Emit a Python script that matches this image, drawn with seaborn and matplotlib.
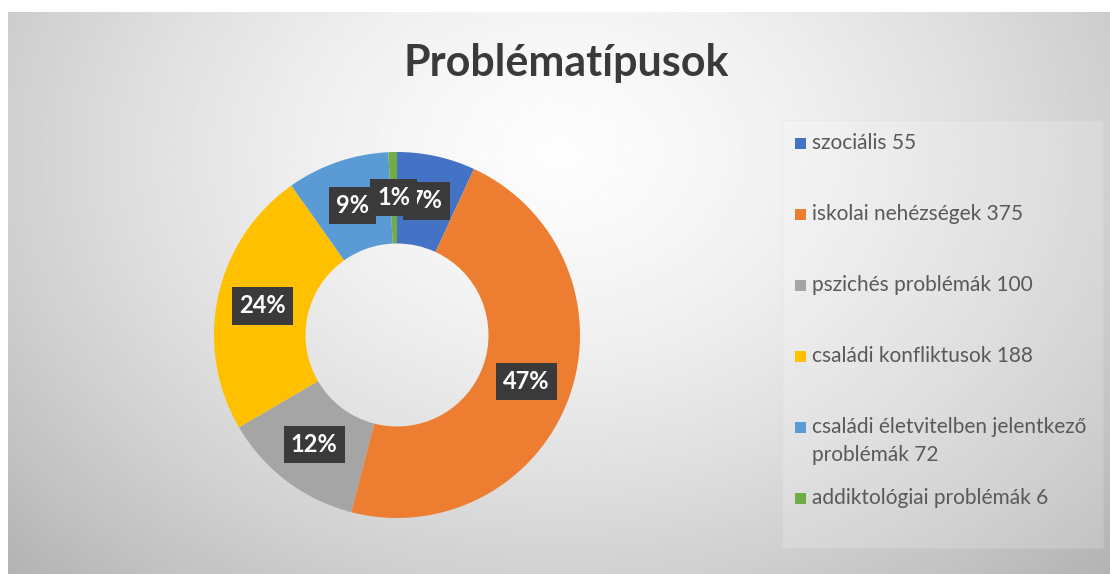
import numpy as np
import matplotlib
matplotlib.use("Agg")
import matplotlib.pyplot as plt
from matplotlib.patches import Rectangle
import seaborn as sns

# ---- data ----
categories = ["szociális", "iskolai nehézségek", "pszichés problémák",
              "családi konfliktusok", "családi életvitelben jelentkező\nproblémák",
              "addiktológiai problémák"]
values = [55, 375, 100, 188, 72, 6]
pct_labels = ["7%", "47%", "12%", "24%", "9%", "1%"]
colors = ["#4472C4", "#ED7D31", "#A5A5A5", "#FFC000", "#5B9BD5", "#70AD47"]
title = "Problématípusok"

sns.set_theme(style="white")
plt.rcParams['font.family'] = ['Lato', 'DejaVu Sans']

W, H = 1110, 574
fig = plt.figure(figsize=(W / 100, H / 100), dpi=100)
fig.patch.set_facecolor("white")

# background gradient
bg = fig.add_axes([8 / W, 0, 1 - 8 / W, (H - 12) / H])
gx = np.linspace(0, 1, 400)
gy = np.linspace(0, 1, 200)
X, Y = np.meshgrid(gx, gy)
R = np.sqrt(((X - 0.5) / 0.62) ** 2 + ((Y - 0.25) / 0.95) ** 2)
vals = 0.99 - 0.24 * np.clip(R, 0, 1.3) ** 1.5
bg.imshow(vals, cmap="gray", vmin=0, vmax=1, aspect="auto",
          extent=[0, 1, 1, 0], interpolation="bilinear")
bg.set_xlim(0, 1)
bg.set_ylim(1, 0)
bg.axis("off")

# legend box
fig.add_artist(Rectangle((782 / W, 1 - 548 / H), (1103 - 782) / W, (548 - 120) / H,
                         transform=fig.transFigure, facecolor="white", alpha=0.18,
                         edgecolor="#cfcfcf", linewidth=0.8))

# donut
cx, cy, rad = 397, 335, 183
ax = fig.add_axes([(cx - rad) / W, (H - cy - rad) / H, 2 * rad / W, 2 * rad / H])
wedges, _ = ax.pie(values, colors=colors, startangle=90, counterclock=False,
                   wedgeprops=dict(width=0.5, edgecolor="none"), radius=1)
ax.set_xlim(-1, 1)
ax.set_ylim(-1, 1)
ax.set_aspect("equal")
ax.axis("off")

for w, lab in zip(wedges, pct_labels):
    ang = np.deg2rad((w.theta1 + w.theta2) / 2)
    r = 0.75
    ax.text(r * np.cos(ang), r * np.sin(ang), lab, ha="center", va="center",
            color="white", fontsize=17, fontweight="bold",
            bbox=dict(boxstyle="square,pad=0.3", fc="#3a3a3a", ec="none"))

# title
fig.text(566 / W, 1 - 63 / H, title, ha="center", va="center",
         fontsize=31, fontweight="bold", color="#3a3a3a")

# legend entries
y0, step = 143, 71
for i, (cat, v, c) in enumerate(zip(categories, values, colors)):
    yc = y0 + step * i
    fig.add_artist(Rectangle((795 / W, 1 - (yc + 5.5) / H), 11 / W, 11 / H,
                             transform=fig.transFigure, facecolor=c, edgecolor="none"))
    fig.text(812 / W, 1 - (yc - 10) / H, f"{cat} {v}", ha="left", va="top",
             fontsize=15, color="#595959", linespacing=1.5)

fig.savefig("out.png", dpi=100)
